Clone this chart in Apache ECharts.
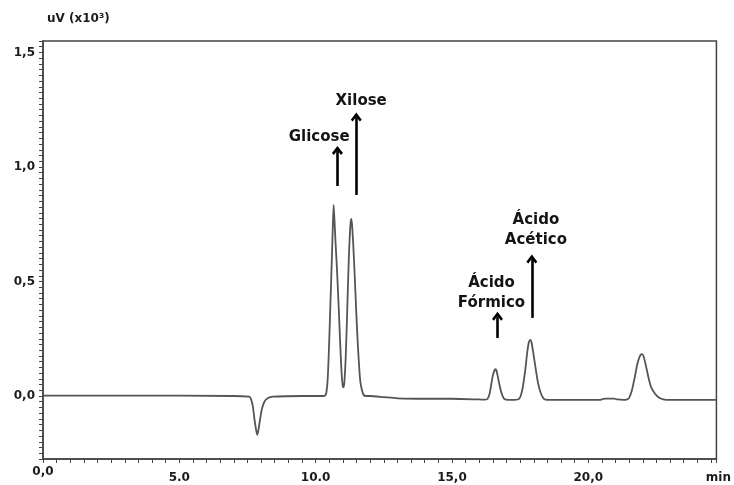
<!DOCTYPE html>
<html>
<head>
<meta charset="utf-8">
<script src="https://cdn.jsdelivr.net/npm/echarts@6/dist/echarts.min.js"></script>
<style>
  html, body { margin: 0; padding: 0; background: #fff; }
  #chart { width: 734px; height: 485px; }
</style>
</head>
<body>
<div id="chart"></div>
<script>
// ---- data ----
var timeMin = [
  0.0, 3.0, 7.0, 7.55, 7.6, 7.66, 7.70, 7.76, 7.82, 7.86, 7.90, 7.94, 8.02, 8.12, 8.24, 8.43, 9.5,
  10.30, 10.36, 10.40, 10.44, 10.48, 10.52, 10.56, 10.60, 10.63, 10.66, 10.69, 10.73, 10.78, 10.83,
  10.88, 10.93, 10.97, 11.00, 11.03, 11.06, 11.10, 11.14, 11.18, 11.22, 11.26, 11.29, 11.31, 11.34,
  11.38, 11.42, 11.46, 11.50, 11.55, 11.60, 11.64, 11.70, 11.76, 11.85, 12.0, 12.5, 13.0, 14.0, 15.0, 16.0,
  16.2, 16.3, 16.38, 16.44, 16.5, 16.56, 16.59, 16.63, 16.69, 16.75, 16.82, 16.9, 16.98, 17.2,
  17.44, 17.52, 17.6, 17.69, 17.76, 17.82, 17.87, 17.92, 17.98, 18.08, 18.16, 18.25, 18.34, 18.42,
  18.7, 19.5, 20.4, 20.55, 20.65, 20.95, 21.05, 21.3,
  21.4, 21.5, 21.6, 21.71, 21.8, 21.9, 21.96, 22.02, 22.1, 22.2, 22.3, 22.45, 22.6, 22.75, 22.85, 24.7
];
var signal = [
  0.002, 0.002, 0.0, -0.003, -0.006, -0.025, -0.047, -0.105, -0.15, -0.170, -0.15, -0.119, -0.061, -0.025, -0.010, -0.003, 0.0,
  0.0, 0.003, 0.02, 0.07, 0.18, 0.32, 0.47, 0.62, 0.74, 0.834, 0.77, 0.67, 0.56, 0.43,
  0.29, 0.15, 0.07, 0.04, 0.038, 0.07, 0.16, 0.30, 0.46, 0.61, 0.72, 0.765, 0.773, 0.74,
  0.66, 0.56, 0.45, 0.34, 0.22, 0.12, 0.062, 0.025, 0.005, 0.0, 0.0, -0.005, -0.01, -0.012, -0.012, -0.015,
  -0.016, -0.013, 0.01, 0.05, 0.09, 0.112, 0.117, 0.112, 0.08, 0.045, 0.012, -0.01, -0.016, -0.017,
  -0.014, 0.0, 0.04, 0.115, 0.19, 0.235, 0.245, 0.234, 0.19, 0.112, 0.055, 0.015, -0.008, -0.016,
  -0.017, -0.017, -0.017, -0.013, -0.011, -0.011, -0.015, -0.017,
  -0.016, -0.008, 0.025, 0.085, 0.14, 0.176, 0.183, 0.176, 0.14, 0.085, 0.04, 0.01, -0.008, -0.015, -0.017, -0.017
];

// tick labels (as printed)
var xTickLabels = { '0': '0,0', '5': '5.0', '10': '10.0', '15': '15,0', '20': '20,0' };
var yTickLabels = { '0': '0,0', '0.5': '0,5', '1': '1,0', '1.5': '1,5' };
var xUnit = 'min';
var yUnit = 'uV (x10\u00B3)';

// peak annotations: text, text position [t, v], arrow [t, vFrom, vTo]
var peakNames = ['Glicose', 'Xilose', '\u00C1cido\nF\u00F3rmico', '\u00C1cido\nAc\u00E9tico'];
var labelPos = [[10.13, 1.132], [11.67, 1.288], [16.45, 0.448], [18.08, 0.725]];
var arrowPos = [[10.80, 0.917, 1.072], [11.49, 0.878, 1.218], [16.67, 0.253, 0.348], [17.93, 0.341, 0.598]];

var seriesData = timeMin.map(function (t, i) { return [t, signal[i]]; });

var FONT = 'DejaVu Sans';
var chevron = 'path://M5,0 L10,6 L8.2,7.6 L5,3.6 L1.8,7.6 L0,6 Z';

var chart = echarts.init(document.getElementById('chart'));
chart.setOption({
  animation: false,
  backgroundColor: '#ffffff',
  grid: {
    left: 43, right: 15, top: 41, bottom: 26,
    show: true, borderColor: '#444', borderWidth: 1.5, containLabel: false
  },
  xAxis: {
    type: 'value', min: 0, max: 24.7, interval: 0.5,
    name: xUnit, nameLocation: 'end', nameGap: 0,
    nameTextStyle: { fontFamily: FONT, fontWeight: 'bold', fontSize: 12, color: '#1c1c1c',
      align: 'center', verticalAlign: 'top', padding: [13, 0, 0, 4] },
    axisLine: { show: true, onZero: false, lineStyle: { color: '#444', width: 1.5 } },
    axisTick: { show: true, length: 4, inside: false, lineStyle: { color: '#444', width: 1 } },
    splitLine: { show: false },
    axisLabel: {
      show: true, interval: 0, margin: 7,
      fontFamily: FONT, fontWeight: 'bold', fontSize: 12, color: '#1c1c1c',
      rich: {
        hi: { fontFamily: FONT, fontWeight: 'bold', fontSize: 12, color: '#1c1c1c' },
        lo: { fontFamily: FONT, fontWeight: 'bold', fontSize: 12, color: '#1c1c1c', padding: [6, 0, 0, 0] }
      },
      formatter: function (v) {
        if (Math.abs(v - Math.round(v)) > 1e-6) return '';
        var k = String(Math.round(v));
        if (xTickLabels[k] === undefined) return '';
        return (k === '0' ? '{hi|' : '{lo|') + xTickLabels[k] + '}';
      }
    }
  },
  yAxis: {
    type: 'value', min: -0.275, max: 1.55, interval: 0.025,
    name: yUnit, nameLocation: 'end', nameGap: 16,
    nameTextStyle: { fontFamily: FONT, fontWeight: 'bold', fontSize: 12, color: '#1c1c1c',
      align: 'left', padding: [0, 0, 0, 4] },
    axisLine: { show: true, onZero: false, lineStyle: { color: '#444', width: 1.5 } },
    axisTick: { show: true, length: 4, inside: false, lineStyle: { color: '#444', width: 1 } },
    splitLine: { show: false },
    axisLabel: {
      show: true, interval: 0, margin: 8,
      fontFamily: FONT, fontWeight: 'bold', fontSize: 12, color: '#1c1c1c',
      formatter: function (v) {
        var r = Math.round(v * 1000) / 1000;
        return yTickLabels[String(r)] !== undefined ? yTickLabels[String(r)] : '';
      }
    }
  },
  series: [{
    type: 'line',
    data: seriesData,
    showSymbol: false,
    smooth: 0.2,
    lineStyle: { color: '#555', width: 1.8 },
    silent: true,
    markLine: {
      silent: true,
      symbol: ['none', chevron],
      symbolSize: [11, 9],
      label: { show: false },
      lineStyle: { color: '#000', width: 2.6, type: 'solid' },
      data: arrowPos.map(function (a) {
        return [{ coord: [a[0], a[1]] }, { coord: [a[0], a[2]] }];
      })
    },
    markPoint: {
      silent: true,
      symbol: 'circle',
      symbolSize: 1,
      itemStyle: { color: 'rgba(0,0,0,0)' },
      label: {
        show: true, position: 'inside',
        fontFamily: FONT, fontWeight: 'bold', fontSize: 15, lineHeight: 20, color: '#141414',
        align: 'center', verticalAlign: 'middle'
      },
      data: peakNames.map(function (n, i) {
        return { coord: labelPos[i], value: n, label: { formatter: n } };
      })
    }
  }]
});
</script>
</body>
</html>
